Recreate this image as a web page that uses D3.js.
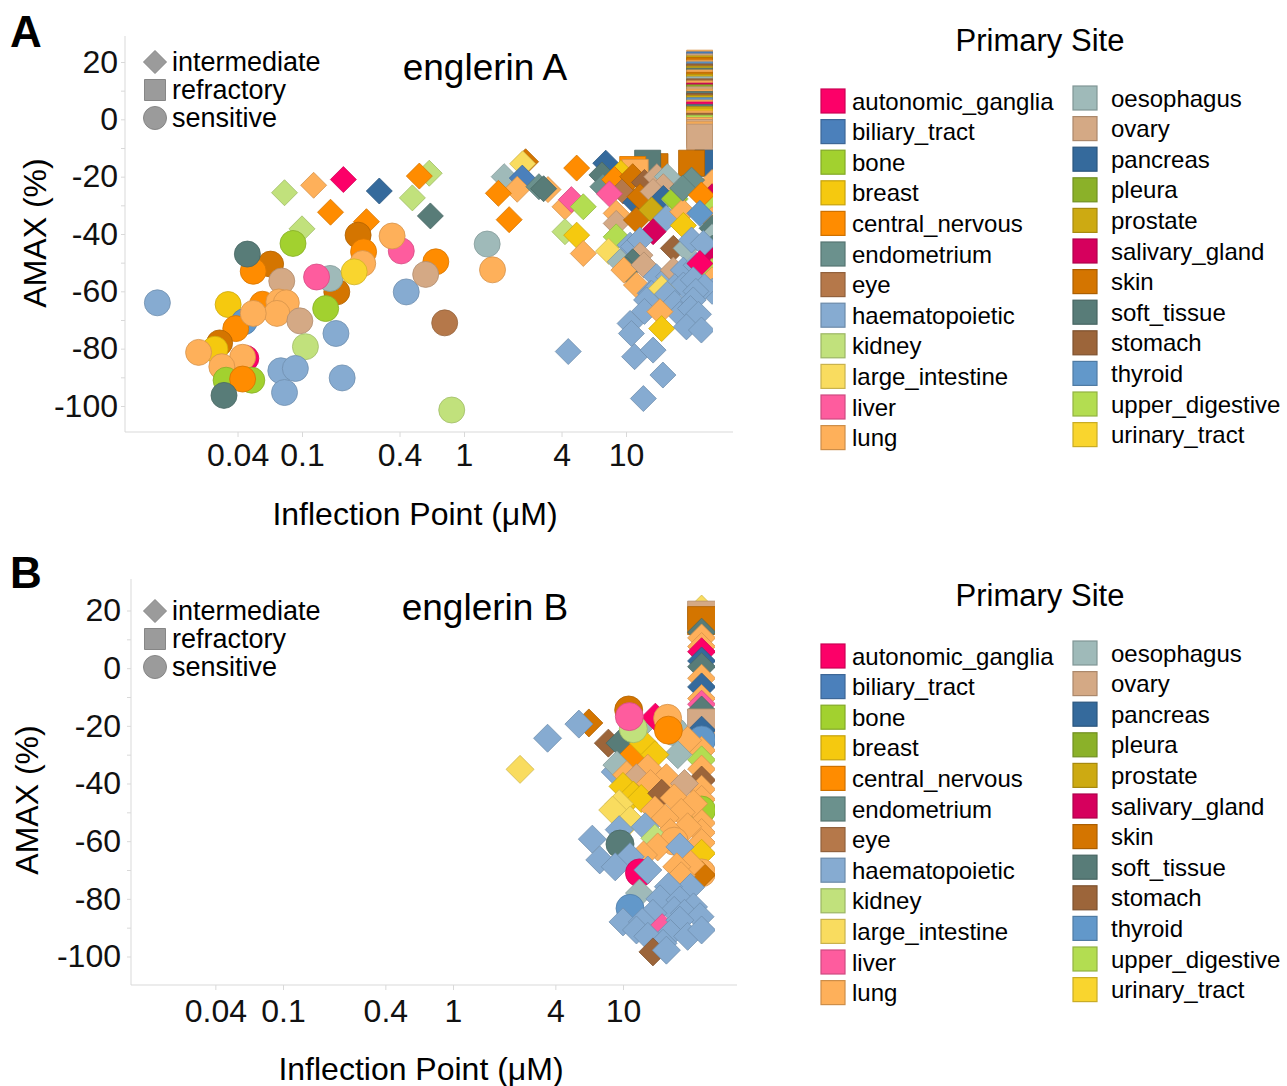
<!DOCTYPE html>
<html>
<head>
<meta charset="utf-8">
<script src="https://cdn.jsdelivr.net/npm/d3@7"></script>
<style>
  body { margin: 0; background: #fff; }
  text { font-family: "Liberation Sans", Arial, sans-serif; }
</style>
</head>
<body>
<div id="chart"></div>
<script>
'use strict';

var sites = ['autonomic_ganglia', 'biliary_tract', 'bone', 'breast', 'central_nervous',
    'endometrium', 'eye', 'haematopoietic', 'kidney', 'large_intestine', 'liver', 'lung',
    'oesophagus', 'ovary', 'pancreas', 'pleura', 'prostate', 'salivary_gland', 'skin',
    'soft_tissue', 'stomach', 'thyroid', 'upper_digestive', 'urinary_tract'];

var siteColors = ['#fc0068', '#4b80bb', '#a2d12f', '#f5c90f', '#ff8c00',
    '#6b918d', '#b5784a', '#86abd1', '#c1e17c', '#f9dc5f', '#fe5c9e', '#feb05a',
    '#9fbab9', '#d4a985', '#356a9c', '#8bb129', '#cdaa12', '#d6005d', '#d47500',
    '#587c78', '#9c653a', '#6298ca', '#b3dd51', '#f9d52e'];

// i = intermediate, r = refractory, s = sensitive
var responseTypes = [['i', 'intermediate'], ['r', 'refractory'], ['s', 'sensitive']];

var xTicks = [0.04, 0.1, 0.4, 1, 4, 10];
var yTicks = [20, 0, -20, -40, -60, -80, -100];
var yMinorTicks = [10, -10, -30, -50, -70, -90];

// [inflection point (uM), AMAX (%), primary site, response]
var englerinA = [
    // refractory lines piled at the top dose
    [28.5, 19.6, 'lung', 'r'], [28.5, 19.0, 'biliary_tract', 'r'], [28.5, 18.3, 'ovary', 'r'],
    [28.5, 17.6, 'prostate', 'r'], [28.5, 17.0, 'skin', 'r'], [28.5, 16.1, 'lung', 'r'],
    [28.5, 15.5, 'thyroid', 'r'], [28.5, 14.8, 'stomach', 'r'], [28.5, 14.0, 'prostate', 'r'],
    [28.5, 13.3, 'soft_tissue', 'r'], [28.5, 12.7, 'lung', 'r'], [28.5, 11.9, 'skin', 'r'],
    [28.5, 11.2, 'prostate', 'r'], [28.5, 10.3, 'oesophagus', 'r'], [28.5, 9.6, 'stomach', 'r'],
    [28.5, 8.9, 'lung', 'r'], [28.5, 8.1, 'salivary_gland', 'r'], [28.5, 7.5, 'pleura', 'r'],
    [28.5, 6.8, 'ovary', 'r'], [28.5, 6.0, 'lung', 'r'], [28.5, 5.2, 'soft_tissue', 'r'],
    [28.5, 4.5, 'stomach', 'r'], [28.5, 3.8, 'prostate', 'r'], [28.5, 3.0, 'thyroid', 'r'],
    [28.5, 2.2, 'lung', 'r'], [28.5, 1.5, 'autonomic_ganglia', 'r'], [28.5, 0.7, 'soft_tissue', 'r'],
    [28.5, -0.1, 'prostate', 'r'], [28.5, -0.9, 'breast', 'r'], [28.5, -1.6, 'lung', 'r'],
    [28.5, -2.4, 'stomach', 'r'], [28.5, -3.1, 'upper_digestive', 'r'], [28.5, -3.9, 'lung', 'r'],
    [28.5, -4.6, 'ovary', 'r'], [28.5, -5.4, 'lung', 'r'], [28.5, -6.2, 'ovary', 'r'],
    [32, -15.3, 'pancreas', 'r'], [25.4, -15.3, 'skin', 'r'], [15.1, -16.5, 'skin', 'r'],
    [13.6, -15.3, 'soft_tissue', 'r'], [11.0, -17.5, 'central_nervous', 'r'], [11.4, -18.5, 'lung', 'r'],
    // intermediate, right-hand cluster
    [34, -22, 'lung', 'i'], [34, -27, 'salivary_gland', 'i'], [34, -31, 'upper_digestive', 'i'],
    [34, -35, 'lung', 'i'], [34, -38, 'soft_tissue', 'i'], [34, -41, 'oesophagus', 'i'],
    [34, -45, 'soft_tissue', 'i'], [34, -49, 'salivary_gland', 'i'], [34, -53, 'upper_digestive', 'i'],
    [34, -56, 'lung', 'i'], [34, -60, 'haematopoietic', 'i'],
    [7.5, -15.3, 'pancreas', 'i'], [7.1, -19.4, 'soft_tissue', 'i'], [7.2, -23.5, 'endometrium', 'i'],
    [9.3, -18.8, 'breast', 'i'], [8.5, -21, 'central_nervous', 'i'], [9.6, -25, 'eye', 'i'],
    [7.9, -26, 'liver', 'i'], [11, -20, 'skin', 'i'], [13, -22, 'stomach', 'i'],
    [15.5, -20, 'ovary', 'i'], [18, -20, 'oesophagus', 'i'], [17, -23.5, 'ovary', 'i'],
    [11.5, -29, 'pancreas', 'i'], [12.2, -27, 'skin', 'i'], [14.7, -25.2, 'ovary', 'i'],
    [17, -27.6, 'pancreas', 'i'], [20, -28, 'kidney', 'i'], [20, -27.6, 'bone', 'i'],
    [8.7, -32.8, 'lung', 'i'], [8.7, -36.3, 'ovary', 'i'], [8.7, -41, 'upper_digestive', 'i'],
    [11.6, -35.1, 'skin', 'i'], [14.4, -31.6, 'prostate', 'i'], [17.7, -34.5, 'haematopoietic', 'i'],
    [22.4, -32.2, 'lung', 'i'], [22.6, -37, 'breast', 'i'], [14.7, -39.2, 'salivary_gland', 'i'],
    [7.8, -46, 'large_intestine', 'i'], [10.6, -43.9, 'haematopoietic', 'i'], [11.1, -44.4, 'haematopoietic', 'i'],
    [12.2, -42.1, 'haematopoietic', 'i'], [12.2, -47.4, 'ovary', 'i'], [9.2, -49.7, 'oesophagus', 'i'],
    [11, -49.7, 'soft_tissue', 'i'], [10.1, -52.6, 'soft_tissue', 'i'], [9.7, -52.6, 'lung', 'i'],
    [12.9, -50.8, 'ovary', 'i'], [11.6, -57.8, 'lung', 'i'], [19.6, -45, 'stomach', 'i'],
    [23.5, -45, 'oesophagus', 'i'], [25.4, -42.1, 'haematopoietic', 'i'], [30, -43.3, 'haematopoietic', 'i'],
    [15.4, -54.9, 'haematopoietic', 'i'], [18.3, -54.9, 'haematopoietic', 'i'], [19.6, -52.6, 'ovary', 'i'],
    [22.6, -52.6, 'haematopoietic', 'i'], [27.1, -50.9, 'haematopoietic', 'i'], [28.6, -50.3, 'autonomic_ganglia', 'i'],
    [14.1, -60.7, 'haematopoietic', 'i'], [14.4, -60.7, 'haematopoietic', 'i'], [13.4, -63, 'haematopoietic', 'i'],
    [20, -58.4, 'haematopoietic', 'i'], [22.6, -57.8, 'haematopoietic', 'i'], [26, -56, 'haematopoietic', 'i'],
    [30.5, -58.4, 'haematopoietic', 'i'], [16.6, -59, 'large_intestine', 'i'], [18, -61, 'haematopoietic', 'i'],
    [27, -60, 'haematopoietic', 'i'], [20, -64.2, 'haematopoietic', 'i'], [26, -63, 'haematopoietic', 'i'],
    [13, -67, 'haematopoietic', 'i'], [21.5, -68, 'haematopoietic', 'i'], [25, -66, 'haematopoietic', 'i'],
    [28, -68, 'haematopoietic', 'i'], [16.2, -67.1, 'lung', 'i'], [16.6, -73, 'breast', 'i'],
    [10.6, -71.2, 'haematopoietic', 'i'], [10.8, -74.7, 'haematopoietic', 'i'], [11.3, -82.8, 'haematopoietic', 'i'],
    [14.7, -80.5, 'haematopoietic', 'i'], [16.9, -89.2, 'haematopoietic', 'i'], [12.8, -97.4, 'haematopoietic', 'i'],
    [23.6, -72.4, 'haematopoietic', 'i'], [29.2, -73.5, 'haematopoietic', 'i'],
    [25.4, -21.2, 'endometrium', 'i'], [22.4, -24, 'endometrium', 'i'], [29.2, -26.4, 'central_nervous', 'i'],
    [28.6, -32.8, 'thyroid', 'i'],
    // intermediate, middle
    [2.4, -14.8, 'skin', 'i'], [2.3, -15.5, 'large_intestine', 'i'], [1.77, -20, 'oesophagus', 'i'],
    [2.29, -20.5, 'biliary_tract', 'i'], [2.13, -24.4, 'lung', 'i'], [1.63, -25.8, 'central_nervous', 'i'],
    [1.9, -35, 'central_nervous', 'i'], [3.3, -24.5, 'lung', 'i'], [2.9, -23.5, 'endometrium', 'i'],
    [3.1, -24.2, 'soft_tissue', 'i'], [4.96, -17, 'central_nervous', 'i'], [4.2, -30.5, 'lung', 'i'],
    [4.6, -28, 'liver', 'i'], [5.45, -30.5, 'upper_digestive', 'i'], [4.2, -39.2, 'kidney', 'i'],
    [4.96, -40.4, 'breast', 'i'], [5.45, -46.8, 'lung', 'i'], [4.4, -81, 'haematopoietic', 'i'],
    // intermediate, left
    [0.078, -25.6, 'kidney', 'i'], [0.118, -23, 'lung', 'i'], [0.18, -21, 'autonomic_ganglia', 'i'],
    [0.30, -25, 'pancreas', 'i'], [0.61, -18.8, 'kidney', 'i'], [0.53, -19.8, 'central_nervous', 'i'],
    [0.48, -27.4, 'kidney', 'i'], [0.62, -33.7, 'soft_tissue', 'i'], [0.15, -32.4, 'central_nervous', 'i'],
    [0.10, -38.2, 'kidney', 'i'], [0.25, -35.7, 'central_nervous', 'i'],
    // sensitive
    [0.0128, -64, 'haematopoietic', 's'], [0.064, -50.5, 'skin', 's'], [0.050, -53, 'central_nervous', 's'],
    [0.046, -47, 'soft_tissue', 's'], [0.075, -56.4, 'ovary', 's'], [0.088, -43.3, 'bone', 's'],
    [0.057, -64.5, 'central_nervous', 's'], [0.035, -64.6, 'breast', 's'], [0.044, -70.6, 'thyroid', 's'],
    [0.039, -73, 'central_nervous', 's'], [0.072, -63.7, 'lung', 's'], [0.08, -64, 'lung', 's'],
    [0.07, -67.7, 'lung', 's'], [0.050, -67.7, 'lung', 's'], [0.097, -70.3, 'ovary', 's'],
    [0.105, -79.3, 'kidney', 's'], [0.031, -78, 'skin', 's'], [0.029, -80.2, 'breast', 's'],
    [0.023, -81.3, 'lung', 's'], [0.045, -83.4, 'autonomic_ganglia', 's'], [0.043, -83, 'lung', 's'],
    [0.032, -86.3, 'lung', 's'], [0.034, -91, 'bone', 's'], [0.049, -91, 'bone', 's'],
    [0.043, -90.6, 'central_nervous', 's'], [0.033, -96.3, 'soft_tissue', 's'], [0.074, -87.7, 'haematopoietic', 's'],
    [0.091, -86.9, 'haematopoietic', 's'], [0.078, -95.3, 'haematopoietic', 's'], [0.162, -74.7, 'haematopoietic', 's'],
    [0.177, -90.2, 'haematopoietic', 's'], [0.164, -60.2, 'skin', 's'], [0.149, -55.5, 'oesophagus', 's'],
    [0.123, -55, 'liver', 's'], [0.14, -66, 'bone', 's'], [0.222, -40.4, 'skin', 's'],
    [0.24, -46.2, 'central_nervous', 's'], [0.237, -50.3, 'lung', 's'], [0.21, -53.2, 'urinary_tract', 's'],
    [0.41, -45.9, 'liver', 's'], [0.36, -40.7, 'lung', 's'], [0.44, -60.2, 'haematopoietic', 's'],
    [0.67, -49.7, 'central_nervous', 's'], [0.58, -54.1, 'ovary', 's'], [0.76, -71, 'eye', 's'],
    [0.84, -101.4, 'kidney', 's'], [1.39, -43.5, 'oesophagus', 's'], [1.50, -52.5, 'lung', 's']
];

var englerinB = [
    // column at the top dose
    [29, 20.5, 'large_intestine', 'i'], [29, 18.4, 'ovary', 'r'], [29, 16.5, 'skin', 'r'],
    [29, 12.5, 'soft_tissue', 'i'], [29, 10.5, 'lung', 'i'], [29, 7.5, 'lung', 'i'],
    [29, 5.7, 'autonomic_ganglia', 'i'], [29, 2.5, 'pancreas', 'i'], [29, 0.5, 'soft_tissue', 'i'],
    [29, -3.5, 'lung', 'i'], [29, -6.5, 'pancreas', 'i'], [29, -10.5, 'lung', 'i'],
    [29, -12.5, 'liver', 'i'], [29, -14.5, 'soft_tissue', 'i'], [29, -19, 'ovary', 'r'],
    [29, -21.5, 'pancreas', 'i'], [29, -24.9, 'thyroid', 's'], [29, -28.5, 'lung', 'i'],
    [29, -31.8, 'upper_digestive', 'i'], [29, -35, 'lung', 'i'], [29, -38.8, 'stomach', 'i'],
    [29, -42, 'lung', 'i'], [29, -45.5, 'lung', 'i'], [29, -49.2, 'bone', 's'],
    [29, -53.7, 'lung', 'i'], [29, -57, 'lung', 'i'], [29, -60.5, 'lung', 'i'],
    [29, -64.2, 'breast', 'i'], [29, -71, 'lung', 's'], [29, -71.7, 'skin', 'i'],
    // outliers
    [2.48, -35.1, 'large_intestine', 'i'], [3.6, -24.3, 'haematopoietic', 'i'], [6.3, -19, 'skin', 'i'],
    [5.5, -19.4, 'haematopoietic', 'i'], [6.6, -59.3, 'haematopoietic', 'i'],
    // cluster
    [12.3, -21, 'oesophagus', 'i'], [15.5, -17, 'autonomic_ganglia', 'i'], [20, -22, 'oesophagus', 's'],
    [8.2, -26, 'stomach', 'i'], [9.6, -26, 'soft_tissue', 'i'], [24, -25, 'lung', 'i'],
    [21, -30, 'oesophagus', 'i'], [11.5, -30, 'central_nervous', 'i'], [13.2, -26, 'breast', 'i'],
    [15.4, -30, 'breast', 'i'], [9, -36, 'haematopoietic', 'i'], [9.2, -33.6, 'oesophagus', 'i'],
    [14, -34.7, 'lung', 'i'], [10.5, -37, 'lung', 'i'], [12, -38, 'ovary', 'i'],
    [18, -38, 'lung', 'i'], [23, -40, 'ovary', 'i'], [14.5, -40, 'lung', 'i'],
    [10, -41, 'breast', 'i'], [11.5, -44, 'breast', 'i'], [12.8, -45.2, 'breast', 'i'],
    [16.9, -43.4, 'stomach', 'i'], [20, -45, 'lung', 'i'], [26, -47, 'lung', 'i'],
    [9.5, -47, 'large_intestine', 'i'], [8.7, -49.2, 'large_intestine', 'i'], [11, -52.7, 'large_intestine', 'i'],
    [15.4, -49.2, 'lung', 'i'], [22, -50, 'lung', 'i'], [17.7, -52, 'lung', 'i'],
    [24, -55, 'lung', 'i'], [9.5, -56, 'haematopoietic', 'i'], [13.5, -55, 'haematopoietic', 'i'],
    [19, -57, 'lung', 'i'], [15.4, -59, 'kidney', 'i'], [9.6, -61, 'soft_tissue', 's'],
    [20, -60, 'lung', 's'], [16, -62, 'lung', 'i'], [13.2, -64.8, 'lung', 'i'],
    [11, -65.4, 'haematopoietic', 'i'], [7.3, -66.5, 'haematopoietic', 'i'], [9, -68.9, 'haematopoietic', 'i'],
    [21.6, -62, 'haematopoietic', 'i'], [25, -68, 'lung', 'i'], [20.7, -68.9, 'lung', 'i'],
    [12.5, -71, 'autonomic_ganglia', 's'], [14, -70, 'haematopoietic', 'i'], [22, -72, 'lung', 'i'],
    [25, -76, 'haematopoietic', 'i'], [18.5, -75.8, 'haematopoietic', 'i'], [12.5, -78, 'oesophagus', 'i'],
    [16.5, -80, 'haematopoietic', 'i'], [21.6, -80.4, 'haematopoietic', 'i'], [26, -82.8, 'haematopoietic', 'i'],
    [11, -83.3, 'thyroid', 's'], [20, -84, 'haematopoietic', 'i'], [23, -85, 'haematopoietic', 'i'],
    [15, -85, 'haematopoietic', 'i'], [10, -88, 'haematopoietic', 'i'], [13, -88, 'haematopoietic', 'i'],
    [17, -90, 'liver', 'i'], [28.4, -86.2, 'haematopoietic', 'i'], [21.6, -87.4, 'haematopoietic', 'i'],
    [12, -90.8, 'haematopoietic', 'i'], [19, -92, 'haematopoietic', 'i'], [24, -93, 'haematopoietic', 'i'],
    [29, -90.8, 'haematopoietic', 'i'], [14, -93, 'haematopoietic', 'i'], [17.2, -95.4, 'haematopoietic', 'i'],
    [15, -98.4, 'stomach', 'i'], [18, -97.8, 'haematopoietic', 'i'],
    [10.8, -14.5, 'skin', 's'], [11.5, -21, 'kidney', 's'], [10.9, -16.8, 'liver', 's'],
    [18.3, -17.4, 'lung', 's'], [18.5, -21.5, 'central_nervous', 's']
];

var W = 1287, H = 1086;
var svg = d3.select('#chart').append('svg').attr('width', W).attr('height', H);
var colorOf = d3.scaleOrdinal().domain(sites).range(siteColors);
var axisGrey = '#d9d9d9';

var shapePath = function(kind, s){
    var h = s / 2;
    if (kind === 'i') return 'M0,' + (-h) + 'L' + h + ',0L0,' + h + 'L' + (-h) + ',0Z';
    if (kind === 'r') return 'M' + (-h) + ',' + (-h) + 'H' + h + 'V' + h + 'H' + (-h) + 'Z';
    return d3.symbol(d3.symbolCircle, Math.PI * h * h)();
};

var panels = [
    {key: 'A', title: 'englerin A', data: englerinA,
     x: d3.scaleLog().domain([1, 10]).range([464, 626]),
     y: d3.scaleLinear().domain([20, -100]).range([62, 406]),
     left: 125, right: 733, clipRight: 713, top: 36, bottom: 432, size: 26,
     yPad: 3, xPad: 6, xTitleX: 415, xTitleY: 525, yTitleX: 46, yTitleY: 233,
     letterY: 47, titleY: 80, shapeY: 62, legendTop: 0},
    {key: 'B', title: 'englerin B', data: englerinB,
     x: d3.scaleLog().domain([1, 10]).range([453, 623]),
     y: d3.scaleLinear().domain([20, -100]).range([610.5, 956.5]),
     left: 131, right: 737, clipRight: 715, top: 579, bottom: 985, size: 28,
     yPad: 6, xPad: 9, xTitleX: 421, xTitleY: 1080, yTitleX: 38, yTitleY: 800,
     letterY: 588, titleY: 620, shapeY: 611, legendTop: 555}
];

var drawPanel = function(p){
    var g = svg.append('g').attr('class', 'panel-' + p.key);

    // axis lines
    g.append('line').attr('x1', p.left).attr('x2', p.left)
        .attr('y1', p.top).attr('y2', p.bottom).attr('stroke', axisGrey);
    g.append('line').attr('x1', p.left).attr('x2', p.right)
        .attr('y1', p.bottom).attr('y2', p.bottom).attr('stroke', axisGrey);

    var plain = function(d){ return String(d); };
    var yAxis = g.append('g').attr('transform', 'translate(' + p.left + ',0)')
        .call(d3.axisLeft(p.y).tickValues(yTicks).tickSize(4).tickPadding(p.yPad).tickFormat(plain));
    var yMinor = g.append('g').attr('transform', 'translate(' + p.left + ',0)')
        .call(d3.axisLeft(p.y).tickValues(yMinorTicks).tickSize(4).tickFormat(''));
    var xAxis = g.append('g').attr('transform', 'translate(0,' + p.bottom + ')')
        .call(d3.axisBottom(p.x).tickValues(xTicks).tickSize(5).tickPadding(p.xPad).tickFormat(plain));

    [yAxis, yMinor, xAxis].forEach(function(a){
        a.select('.domain').remove();
        a.selectAll('line').attr('stroke', axisGrey);
        a.selectAll('text').attr('font-size', 32).attr('fill', '#111')
            .attr('font-family', '"Liberation Sans", Arial, sans-serif');
    });

    // marks
    var clipId = 'clip' + p.key;
    g.append('clipPath').attr('id', clipId).append('rect')
        .attr('x', p.left + 1).attr('y', p.top)
        .attr('width', p.clipRight - p.left - 1).attr('height', p.bottom - p.top);

    g.append('g').attr('clip-path', 'url(#' + clipId + ')')
        .selectAll('path')
        .data(p.data)
        .enter()
        .append('path')
        .attr('transform', function(d){
            return 'translate(' + p.x(d[0]) + ',' + p.y(d[1]) + ')';
        })
        .attr('d', function(d){ return shapePath(d[3], p.size); })
        .attr('fill', function(d){ return colorOf(d[2]); })
        .attr('stroke', function(d){ return d3.color(colorOf(d[2])).darker(0.5); })
        .attr('stroke-width', 0.8);

    // titles
    g.append('text').attr('x', 10).attr('y', p.letterY)
        .attr('font-size', 44).attr('font-weight', 'bold').text(p.key);
    g.append('text').attr('x', 485).attr('y', p.titleY).attr('text-anchor', 'middle')
        .attr('font-size', 37).text(p.title);
    g.append('text').attr('x', p.xTitleX).attr('y', p.xTitleY)
        .attr('text-anchor', 'middle').attr('font-size', 32).text('Inflection Point (\u03bcM)');
    g.append('text').attr('transform', 'translate(' + p.yTitleX + ',' + p.yTitleY + ') rotate(-90)')
        .attr('text-anchor', 'middle').attr('font-size', 32).text('AMAX (%)');

    // response legend
    var shapeLegend = g.append('g').selectAll('g')
        .data(responseTypes)
        .enter()
        .append('g')
        .attr('transform', function(d, i){ return 'translate(155,' + (p.shapeY + i * 28) + ')'; });
    shapeLegend.append('path')
        .attr('d', function(d){ return shapePath(d[0], d[0] === 'r' ? 21 : 23); })
        .attr('fill', '#9b9b9b').attr('stroke', '#868686');
    shapeLegend.append('text').attr('x', 17).attr('y', 9)
        .attr('font-size', 27).text(function(d){ return d[1]; });

    // site legend
    var lg = g.append('g').attr('transform', 'translate(0,' + p.legendTop + ')');
    lg.append('text').attr('x', 1040).attr('y', 51).attr('text-anchor', 'middle')
        .attr('font-size', 31).text('Primary Site');
    var rows = lg.selectAll('.row')
        .data(sites)
        .enter()
        .append('g')
        .attr('class', 'row')
        .attr('transform', function(d, i){
            var col = i < 12 ? 0 : 1;
            var r = i % 12;
            var x0 = col ? 1073 : 821;
            var y0 = (col ? 98 : 101) + r * 30.6;
            return 'translate(' + x0 + ',' + y0 + ')';
        });
    rows.append('rect').attr('x', 0).attr('y', -12).attr('width', 24).attr('height', 24)
        .attr('fill', function(d){ return colorOf(d); })
        .attr('stroke', function(d){ return d3.color(colorOf(d)).darker(0.6); })
        .attr('stroke-width', 1.2);
    rows.append('text')
        .attr('x', function(d, i){ return i < 12 ? 31 : 38; })
        .attr('y', 8.5).attr('font-size', 24)
        .text(function(d){ return d; });
};

panels.forEach(drawPanel);
</script>
</body>
</html>
